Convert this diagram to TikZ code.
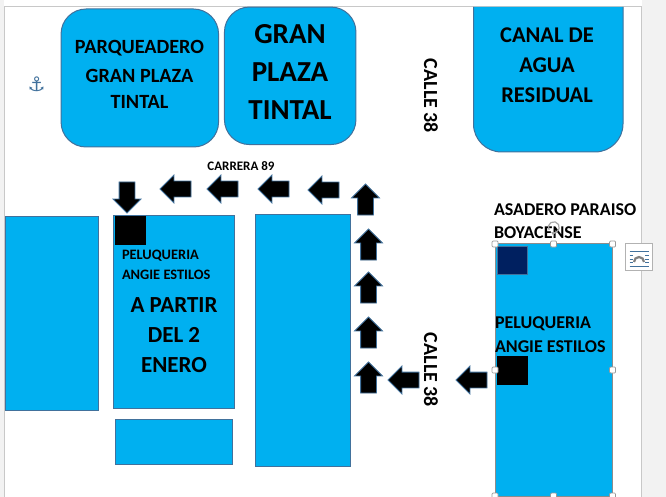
\documentclass[tikz,border=0pt]{standalone}
\usepackage{fontspec}
\setmainfont{Carlito}
\newfontfamily\symfont{DejaVu Sans}
\usetikzlibrary{shapes.arrows}
\definecolor{zoneblue}{HTML}{00B0F0}
\definecolor{edgeblue}{HTML}{41719C}
\definecolor{navybox}{HTML}{002060}
\definecolor{pagegray}{HTML}{C8C8C8}
\definecolor{sidegray}{HTML}{F2F2F2}
\tikzset{
  zone/.style={draw=edgeblue,fill=zoneblue,line width=1pt,inner sep=0pt,outer sep=0pt},
  zonesize/.style 2 args={minimum width=#1pt,minimum height=#2pt},
  street/.style={draw=edgeblue,fill=black,line width=0.8pt,single arrow,single arrow head extend=6pt,
    single arrow tip angle=90,minimum width=27pt,minimum height=31pt,inner xsep=0pt,inner ysep=7.5pt,outer sep=0pt,anchor=tip},
  marker/.style={inner sep=0pt,outer sep=0pt},
  handle/.style={draw=gray!80,fill=white,line width=0.7pt,inner sep=0pt,minimum size=6pt,rounded corners=1pt},
  lbl/.style={inner sep=0pt,outer sep=0pt,align=center,font=\bfseries\fontsize{#1}{#1}\selectfont},
}
\begin{document}
\begin{tikzpicture}[x=1pt,y=-1pt]
\useasboundingbox (0,0) rectangle (666,497);
% page
\fill[sidegray] (0,0) rectangle (4,497);
\fill[sidegray] (642,0) rectangle (666,497);
\draw[pagegray,line width=0.8pt] (4.5,497) -- (4.5,6.5) -- (641.5,6.5) -- (641.5,497);

% top blocks
\node[zone,rounded corners=25pt,zonesize={157.5}{138}] (parqueadero) at (139.8,78) {};
\node[zone,rounded corners=25pt,zonesize={131.5}{137.5}] (plaza) at (290.2,75.8) {};
\draw[draw=edgeblue,fill=zoneblue,line width=1pt,rounded corners=28pt] (473.5,7) -- (473.5,152) -- (623,152) -- (623,7);

\node[lbl=20.2] (parqueaderotxt) at (139.5,48.5) {PARQUEADERO};
\node[lbl=20.2] (granplazatxt) at (139.5,75.5) {GRAN PLAZA};
\node[lbl=20.2] (tintaltxt) at (139.5,101.5) {TINTAL};
\node[lbl=29] (gran) at (290,34.5) {GRAN};
\node[lbl=29] (plazatxt) at (290,72.5) {PLAZA};
\node[lbl=29] (tintalbig) at (290,110.5) {TINTAL};
\node[lbl=22.5] (canal1) at (547,35) {CANAL DE};
\node[lbl=22.5] (canal2) at (547,65) {AGUA};
\node[lbl=22.5] (canal3) at (547,95) {RESIDUAL};

% anchor icon
\node[marker,text=edgeblue,font=\symfont\fontsize{20}{20}\selectfont] (anchor) at (36.5,84) {⚓};

% street names
\node[lbl=20,rotate=-90] (calle1) at (431,96) {CALLE 38};
\node[lbl=20,rotate=-90] (calle2) at (431,370) {CALLE 38};
\node[lbl=13] (carrera) at (241,166.5) {CARRERA 89};

% lower blocks
\node[zone,zonesize={93.5}{194}] (left) at (51.8,313) {};
\node[zone,zonesize={121}{192.5}] (salon) at (174,312.2) {};
\node[zone,zonesize={117.5}{45.5}] (small) at (173.8,441.8) {};
\node[zone,zonesize={95.5}{252}] (tall) at (302.8,340) {};
\node[zone,draw=gray!90,zonesize={117.5}{252.5}] (right) at (553.8,370.2) {};

% squares
\node[marker,fill=black,minimum width=31pt,minimum height=29pt] (sq1) at (130.5,230.5) {};
\node[marker,draw=edgeblue,fill=navybox,line width=0.8pt,minimum width=29.5pt,minimum height=28.5pt] (sq2) at (512.3,260.2) {};
\node[marker,fill=black,minimum width=31pt,minimum height=29pt] (sq3) at (512.5,370.5) {};

% texts in the blocks
\node[lbl=14.4,anchor=west] (pelu1) at (122,256) {PELUQUERIA};
\node[lbl=14.4,anchor=west] (angie1) at (122,275) {ANGIE ESTILOS};
\node[lbl=23] (apartir) at (174,305) {A PARTIR};
\node[lbl=23] (del) at (174,335) {DEL 2};
\node[lbl=23] (enero) at (174,365) {ENERO};
\node[lbl=18,anchor=west] (asadero) at (494,210) {ASADERO PARAISO};
\node[lbl=18,anchor=west] (boyacense) at (494,233) {BOYACENSE};
\node[lbl=18,anchor=west] (pelu2) at (495,324) {PELUQUERIA};
\node[lbl=18,anchor=west] (angie2) at (495,347) {ANGIE ESTILOS};

% arrows
\foreach \px/\py [count=\i] in {160/189,207/189,258/189,308/190,388/380,456/380}
  \node[street,rotate=180] (west\i) at (\px,\py) {};
\foreach \px/\py [count=\i] in {365.5/184,368.5/229,368.5/272,368.5/317,368.5/362}
  \node[street,rotate=90] (north\i) at (\px,\py) {};
\node[street,rotate=270] (south) at (127,213) {};

% selection handles
\foreach \px/\py [count=\i] in {495/244,553.5/244,612.5/244,495/370,612.5/370,495/496,553.5/496,612.5/496}
  \node[handle] (h\i) at (\px,\py) {};
\draw[gray!70,line width=1.2pt,->,>=stealth] (549,230) arc (150:480:5.5);

% layout button
\node[draw=gray!60,fill=white,line width=0.8pt,minimum size=27pt,inner sep=0pt] (layoutbtn) at (639,257) {};
\foreach \py in {251,266}
  \draw[edgeblue,line width=0.7pt] (629.5,\py) -- (648.5,\py);
\foreach \py in {255,259,262}{
  \draw[edgeblue,line width=0.7pt] (629.5,\py) -- (633,\py);
  \draw[edgeblue,line width=0.7pt] (645,\py) -- (648.5,\py);
}
\draw[gray,line width=2.2pt] (634,262) arc (180:360:5);
\end{tikzpicture}
\end{document}
